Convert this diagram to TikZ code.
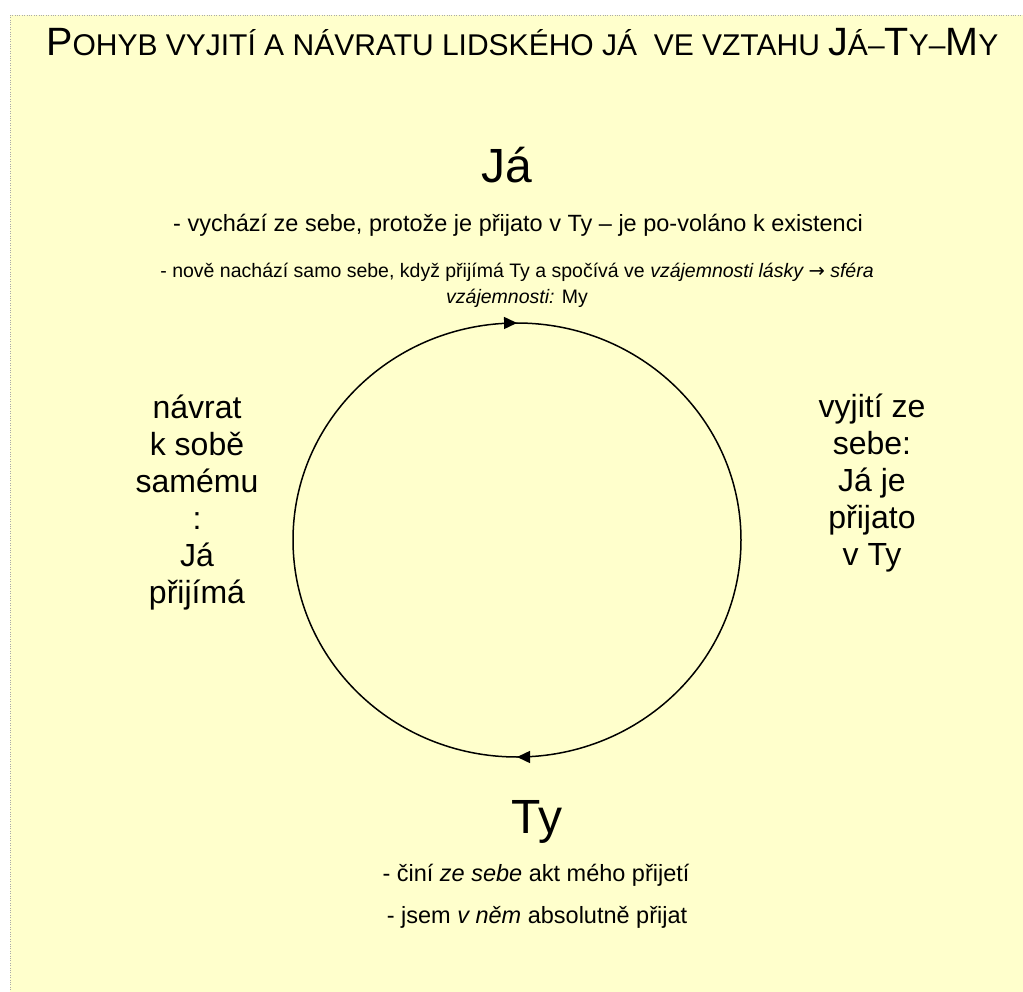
\documentclass[tikz,border=0pt]{standalone}
\usepackage{fontspec}
\setmainfont{Liberation Sans}
\newfontfamily\arrowfont{DejaVu Sans}
\usetikzlibrary{arrows.meta,decorations.markings}
\definecolor{paperyellow}{RGB}{255,255,204}
\definecolor{framegray}{RGB}{170,170,170}
\newcommand{\titlebig}[1]{{\fontsize{39.5}{44}\selectfont #1}}
\newcommand{\titlesmall}[1]{{\fontsize{30}{34}\selectfont #1}}
\tikzset{
    bodytext/.style={font=\fontsize{23.5}{26}\selectfont, anchor=base, align=center, inner sep=0pt},
    sidetext/.style={font=\fontsize{32}{37}\selectfont, anchor=base, align=center, inner sep=0pt},
    bigname/.style={font=\fontsize{48}{56}\selectfont, anchor=base, inner sep=0pt},
    flowarrow/.style={postaction={decorate}, decoration={markings,
        mark=at position 0.25 with {\arrow{Triangle[length=13pt,width=12pt]}},
        mark=at position 0.75 with {\arrow{Triangle[length=13pt,width=12pt]}}}}
}

\begin{document}
\begin{tikzpicture}[x=1pt,y=-1pt]
    \useasboundingbox (0,0) rectangle (1023,992);
    % Sheet
    \fill[paperyellow] (10,15) rectangle (1023,992);
    \draw[framegray, dotted] (10,992) -- (10,15) -- (1023,15);

    % Title
    \node[anchor=base west, inner sep=0pt] (title) at (46,56)
        {\titlebig{P}\titlesmall{OHYB VYJITÍ A NÁVRATU LIDSKÉHO JÁ\ \ VE VZTAHU }\titlebig{J}\titlesmall{Á–}\titlebig{T}\titlesmall{Y–}\titlebig{M}\titlesmall{Y}};

    % Ja
    \node[bigname] (ja) at (507,183) {Já};
    \node[bodytext] (jaout) at (518,232) {- vychází ze sebe, protože je přijato v Ty – je po-voláno k existenci};
    % last line of the block sits on the anchor
    \node[bodytext, font=\fontsize{19.5}{26}\selectfont] (jaback) at (517,304) {- nově nachází samo sebe, když přijímá Ty a spočívá ve \textit{vzájemnosti lásky {\arrowfont\upshape →} sféra}\\\textit{vzájemnosti:} My};

    % Cycle
    \coordinate (hub) at (517,540);
    \draw[line width=1.5pt, flowarrow] (hub) ellipse [x radius=224, y radius=217];

    % Side labels
    \node[sidetext] (back) at (197,603) {návrat\\k sobě\\samému\\:\\Já\\přijímá};
    \node[sidetext] (out) at (872,565) {vyjití ze\\sebe:\\Já je\\přijato\\v Ty};

    % Ty
    \node[bigname] (ty) at (537,833) {Ty};
    \node[bodytext] (tyact) at (536,881) {- činí \textit{ze sebe} akt mého přijetí};
    \node[bodytext] (tyin) at (537,923) {- jsem \textit{v něm} absolutně přijat};
\end{tikzpicture}
\end{document}
